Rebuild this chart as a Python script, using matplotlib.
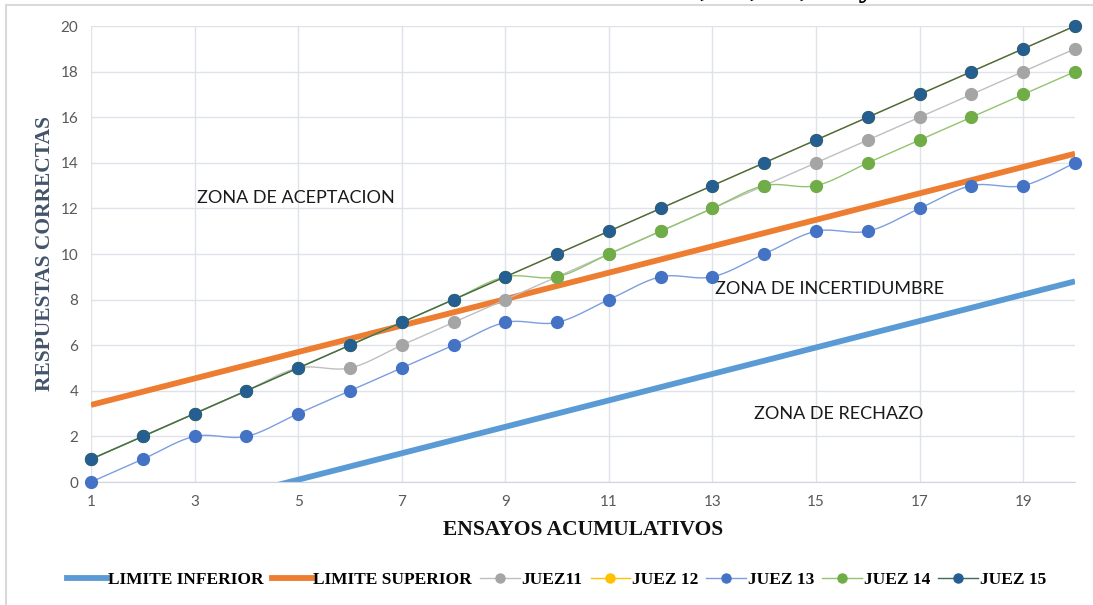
import numpy as np
import matplotlib.pyplot as plt
from matplotlib.lines import Line2D

ensayos = list(range(1, 21))

limite_inferior = [-2.22, -1.64, -1.06, -0.48, 0.10, 0.68, 1.26, 1.84, 2.42, 3.00,
                   3.58, 4.16, 4.74, 5.32, 5.90, 6.48, 7.06, 7.64, 8.22, 8.80]
limite_superior = [3.38, 3.96, 4.54, 5.12, 5.70, 6.28, 6.86, 7.44, 8.02, 8.60,
                   9.18, 9.76, 10.34, 10.92, 11.50, 12.08, 12.66, 13.24, 13.82, 14.40]

juez11 = [1, 2, 3, 4, 5, 5, 6, 7, 8, 9, 10, 11, 12, 13, 14, 15, 16, 17, 18, 19]
juez12 = [1, 2, 3, 4, 5, 6, 7, 8, 9, 10, 11, 12, 13, 14, 15, 16, 17, 18, 19, 20]
juez13 = [0, 1, 2, 2, 3, 4, 5, 6, 7, 7, 8, 9, 9, 10, 11, 11, 12, 13, 13, 14]
juez14 = [1, 2, 3, 4, 5, 6, 7, 8, 9, 9, 10, 11, 12, 13, 13, 14, 15, 16, 17, 18]
juez15 = [1, 2, 3, 4, 5, 6, 7, 8, 9, 10, 11, 12, 13, 14, 15, 16, 17, 18, 19, 20]

x_ticks = [1, 3, 5, 7, 9, 11, 13, 15, 17, 19]
y_ticks = [0, 2, 4, 6, 8, 10, 12, 14, 16, 18, 20]


def smooth(x, y, n=24):
    # bezier through the points, control points taken from the neighbours
    x = np.asarray(x, float)
    y = np.asarray(y, float)
    px = np.concatenate([[x[0]], x, [x[-1]]])
    py = np.concatenate([[y[0]], y, [y[-1]]])
    xs, ys = [], []
    t = np.linspace(0, 1, n)
    for i in range(1, len(px) - 2):
        p0x, p1x, p2x, p3x = px[i - 1], px[i], px[i + 1], px[i + 2]
        p0y, p1y, p2y, p3y = py[i - 1], py[i], py[i + 1], py[i + 2]
        c1x, c1y = p1x + (p2x - p0x) / 6, p1y + (p2y - p0y) / 6
        c2x, c2y = p2x - (p3x - p1x) / 6, p2y - (p3y - p1y) / 6
        b = [(1 - t) ** 3, 3 * (1 - t) ** 2 * t, 3 * (1 - t) * t ** 2, t ** 3]
        xs.append(b[0] * p1x + b[1] * c1x + b[2] * c2x + b[3] * p2x)
        ys.append(b[0] * p1y + b[1] * c1y + b[2] * c2y + b[3] * p2y)
    return np.concatenate(xs), np.concatenate(ys)


fig = plt.figure(figsize=(10.93, 6.05), dpi=100)
ax = fig.add_axes([91 / 1093, 1 - 482 / 605, (1075 - 91) / 1093, (482 - 26) / 605])

ax.plot(ensayos, limite_inferior, color='#5b9bd5', lw=4.2, solid_capstyle='butt', zorder=2)
ax.plot(ensayos, limite_superior, color='#ed7d31', lw=4.2, solid_capstyle='butt', zorder=2)

jueces = [
    (juez11, '#bfbfbf', '#a5a5a5'),
    (juez12, '#ffc000', '#ffc000'),
    (juez13, '#7c9ee0', '#4472c4'),
    (juez14, '#92c46f', '#70ad47'),
    (juez15, '#3f6a5c', '#255e91'),
]
for i, (vals, lc, mc) in enumerate(jueces):
    sx, sy = smooth(ensayos, vals)
    ax.plot(sx, sy, color=lc, lw=1.0, zorder=3 + i, clip_on=False)
    ax.plot(ensayos, vals, ls='none', marker='o', ms=8.5, color=mc, zorder=3 + i, clip_on=False)

ax.set_xlim(1, 20)
ax.set_ylim(0, 20)
ax.set_xticks(x_ticks)
ax.set_yticks(y_ticks)
ax.grid(True, color='#dfe2e9', lw=1.0)
ax.set_axisbelow(True)
for s in ['top', 'right', 'left']:
    ax.spines[s].set_visible(False)
ax.spines['bottom'].set_color('#d0d4dc')
ax.tick_params(length=0, labelsize=11, labelcolor='#595959', pad=9)
for lab in ax.get_xticklabels() + ax.get_yticklabels():
    lab.set_family('Lato')

ax.set_xlabel('ENSAYOS ACUMULATIVOS', family='Liberation Serif', weight='bold',
              fontsize=15.5, color='#111111', labelpad=8)
ax.set_ylabel('RESPUESTAS CORRECTAS', family='Liberation Serif', weight='bold',
              fontsize=15.5, color='#44546a', labelpad=4)

zona = dict(family='Lato', fontsize=13, color='#1a1a1a', va='center', ha='left')
ax.text(3.05, 12.45, 'ZONA DE ACEPTACION', **zona)
ax.text(13.05, 8.45, 'ZONA DE INCERTIDUMBRE', **zona)
ax.text(13.8, 3.0, 'ZONA DE RECHAZO', **zona)

handles = [
    Line2D([], [], color='#5b9bd5', lw=4.2),
    Line2D([], [], color='#ed7d31', lw=4.2),
]
for vals, lc, mc in jueces:
    handles.append(Line2D([], [], color=lc, lw=1.0, marker='o', ms=6.5,
                          markerfacecolor=mc, markeredgecolor=mc))
labels = ['LIMITE INFERIOR', 'LIMITE SUPERIOR', 'JUEZ11', 'JUEZ 12', 'JUEZ 13', 'JUEZ 14', 'JUEZ 15']
fig.legend(handles, labels, loc='center', bbox_to_anchor=(0.509, 0.041), ncol=7,
           frameon=False, handlelength=2.3, handletextpad=0.1, columnspacing=0.45,
           prop=dict(family='Liberation Serif', weight='bold', size=12.5))

# chart frame
fig.add_artist(Line2D([6 / 1093, 6 / 1093], [0, 1 - 5 / 605], color='#d9d9d9', lw=1.5))
fig.add_artist(Line2D([6 / 1093, 1], [1 - 5 / 605, 1 - 5 / 605], color='#d9d9d9', lw=1.5))

# title sits above the frame
fig.text(669 / 1093, 1.007, '11, 12, 13, 14 y 15', family='Liberation Serif', weight='bold',
         fontsize=24, va='baseline', ha='left')

fig.savefig('out.png', dpi=100)
